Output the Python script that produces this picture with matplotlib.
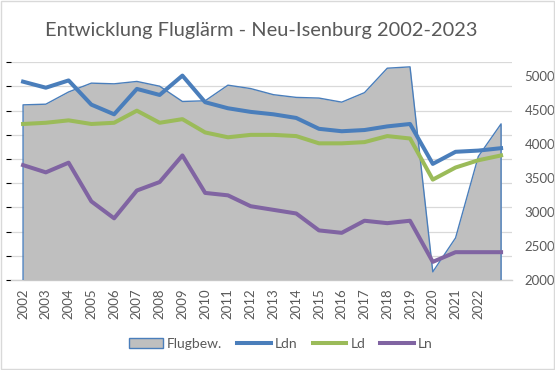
import matplotlib
matplotlib.use("Agg")
import matplotlib.pyplot as plt
from matplotlib.patches import Rectangle, Patch
from matplotlib.lines import Line2D
import numpy as np

years = list(range(2002, 2024))
# Flugbewegungen (in hundreds)
flights = [4580, 4590, 4770, 4900, 4890, 4925, 4855, 4630, 4640, 4870, 4820,
           4730, 4690, 4680, 4620, 4760, 5120, 5140, 2120, 2620, 3820, 4300]
# noise levels in dB (hidden axis)
ldn = [58.4, 57.9, 58.5, 56.5, 55.7, 57.8, 57.3, 58.9, 56.7, 56.2, 55.9,
       55.7, 55.4, 54.5, 54.3, 54.4, 54.7, 54.9, 51.6, 52.6, 52.7, 52.9]
ld = [54.9, 55.0, 55.2, 54.9, 55.0, 56.0, 55.0, 55.3, 54.2, 53.8, 54.0,
      54.0, 53.9, 53.3, 53.3, 53.4, 53.9, 53.7, 50.3, 51.3, 51.9, 52.3]
ln = [51.5, 50.9, 51.7, 48.5, 47.1, 49.4, 50.1, 52.3, 49.2, 49.0, 48.1,
      47.8, 47.5, 46.1, 45.9, 46.9, 46.7, 46.9, 43.5, 44.3, 44.3, 44.3]
tick_labels = [str(y) for y in years[:-1]]

FONT = ["Lato", "DejaVu Sans"]
plt.rcParams["font.family"] = FONT
TXT = "#595959"
GRID = "#d9d9d9"
BLUE = "#4a7ebb"
GREEN = "#9bbb59"
PURPLE = "#8064a2"

fig = plt.figure(figsize=(5.55, 3.7), dpi=100)
ax = fig.add_axes([11/555, 1-280/370, (512-11)/555, (280-62.3)/370])
x = np.arange(len(years))

# bottom layer: gridlines of the hidden dB axis
ax.set_ylim(42, 60)
ax.set_yticks(np.arange(42, 61, 2))
ax.grid(axis="y", color=GRID, lw=0.9)
ax.tick_params(axis="y", left=False, labelleft=False)
ax.set_xlim(-0.53, 21.48)
ax.set_xticks(x[:-1])
ax.set_xticklabels(tick_labels, rotation=90, fontsize=9.5, color=TXT)
ax.tick_params(axis="x", length=0, pad=6)
for s in ["top", "left", "right"]:
    ax.spines[s].set_visible(False)
ax.spines["bottom"].set_color("#d0d0d0")
ax.spines["bottom"].set_linewidth(1)

# middle layer: flight movements area, right axis
ax2 = ax.twinx()
ax2.patch.set_visible(False)
ax2.set_ylim(2000, 5207)
ax2.fill_between(x, flights, 2000, color="#bfbfbf", lw=0)
ax2.plot(np.r_[x[0], x, x[-1]], np.r_[2000, flights, 2000], color=BLUE, lw=1)
ax2.set_yticks(np.arange(2000, 5001, 500))
ax2.tick_params(axis="y", length=0, pad=9, labelsize=9.5, labelcolor=TXT)
for s in ax2.spines.values():
    s.set_visible(False)

# top layer: noise lines
ax3 = ax.twinx()
ax3.patch.set_visible(False)
ax3.set_ylim(42, 60)
ax3.plot(x, ldn, color=BLUE, lw=2.9, solid_joinstyle="round")
ax3.plot(x, ld, color=GREEN, lw=2.9, solid_joinstyle="round")
ax3.plot(x, ln, color=PURPLE, lw=2.9, solid_joinstyle="round")
ax3.set_yticks([])
for s in ax3.spines.values():
    s.set_visible(False)

fig.text(261/555, 1-36/370, "Entwicklung Fluglärm - Neu-Isenburg 2002-2023",
         ha="center", va="baseline", fontsize=14.4, color=TXT)

handles = [Patch(facecolor="#bfbfbf", edgecolor=BLUE, lw=1),
           Line2D([], [], color=BLUE, lw=2.9),
           Line2D([], [], color=GREEN, lw=2.9),
           Line2D([], [], color=PURPLE, lw=2.9)]
fig.legend(handles, ["Flugbew.", "Ldn", "Ld", "Ln"], loc="center",
           bbox_to_anchor=(281/555, 1-344/370), ncol=4, frameon=False,
           fontsize=10, labelcolor=TXT, handlelength=2.4, handleheight=0.7,
           handletextpad=0.3, columnspacing=1.1)

fig.patches.append(Rectangle((0.001, 0.003), 0.997, 0.994, transform=fig.transFigure,
                             fill=False, edgecolor=GRID, lw=1))

fig.savefig("out.png", dpi=100)
